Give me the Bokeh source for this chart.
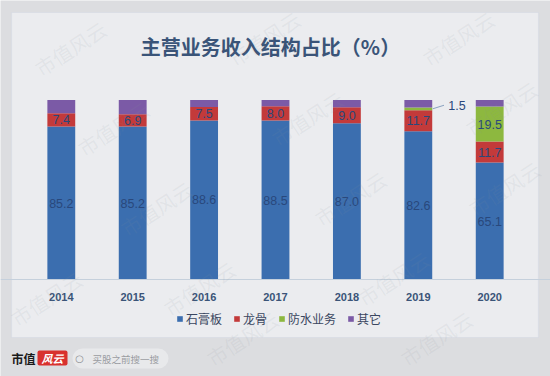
from bokeh.plotting import figure
from bokeh.models import (ColumnDataSource, Range1d, FactorRange, Label, BoxAnnotation,
                          Legend, LegendItem)
from bokeh.core.properties import value
from bokeh.transform import dodge
from bokeh.embed import file_html
from bokeh.resources import INLINE

years = ["2014", "2015", "2016", "2017", "2018", "2019", "2020"]
gypsum = [85.2, 85.2, 88.6, 88.5, 87.0, 82.6, 65.1]      # 石膏板
keel = [7.4, 6.9, 7.5, 8.0, 9.0, 11.7, 11.7]             # 龙骨
waterproof = [0.0, 0.0, 0.0, 0.0, 0.0, 1.5, 19.5]        # 防水业务
other = [7.4, 7.9, 3.9, 3.5, 4.0, 4.2, 3.7]              # 其它
series_names = ["石膏板", "龙骨", "防水业务", "其它"]
colors = ["#3b6eaf", "#c33a3a", "#8db83f", "#7b5aa6"]
title_text = "主营业务收入结构占比（%）"
watermark_text = "市值风云"
logo_text = "市值"
logo_red_text = "风云"
search_text = "买股之前搜一搜"

W, H = 550, 376
OUTER = "#dcdde0"
PANEL = "#ebecef"
TXT = "#3a5478"
FONT = "Noto Sans CJK SC"
NUMFONT = "Liberation Sans"

# frame covers the whole canvas; ranges chosen so that 0..100 % sits at the
# chart's plotting band and categories fall on the original bar centres
pad = 0.3515
x_range = FactorRange(*years, range_padding=pad, range_padding_units="absolute")
y_range = Range1d(-54.04, 155.4)

p = figure(width=W, height=H, x_range=x_range, y_range=y_range,
           output_backend="svg", toolbar_location=None,
           min_border=0, min_border_left=0, min_border_right=0,
           min_border_top=0, min_border_bottom=0)
p.border_fill_color = OUTER
p.background_fill_color = OUTER
p.outline_line_color = None
p.grid.visible = False
p.yaxis.visible = False


def sy(y_from_top):
    return H - y_from_top


# inner panel
p.add_layout(BoxAnnotation(left=11, right=538, top=sy(12), bottom=sy(337),
                           left_units="screen", right_units="screen",
                           top_units="screen", bottom_units="screen",
                           fill_color=PANEL, fill_alpha=1.0, line_color="#c6d2de",
                           line_width=1.2, level="underlay"))

data = dict(year=years, gypsum=gypsum, keel=keel, waterproof=waterproof, other=other)
src = ColumnDataSource(data)
keys = ["gypsum", "keel", "waterproof", "other"]
rs = p.vbar_stack(keys, x="year", width=0.39, source=src, color=colors, line_color=None)

lab_x, lab_y, lab_t = [], [], []
for i, y in enumerate(years):
    base = 0.0
    for k, arr in zip(keys, [gypsum, keel, waterproof, other]):
        v = arr[i]
        if k != "other" and v > 0 and not (k == "waterproof" and v < 3):
            lab_x.append(y); lab_y.append(base + v / 2); lab_t.append(f"{v:.1f}")
        base += v
lsrc = ColumnDataSource(dict(x=lab_x, y=lab_y, t=lab_t))
p.text(x="x", y="y", text="t", source=lsrc, text_align="center", text_baseline="middle",
       text_font_size="12.5px", text_color="#29487c", text_font=value(NUMFONT))

i19 = years.index("2019")
yb = gypsum[i19] + keel[i19] + waterproof[i19] / 2
lead = ColumnDataSource(dict(x=[years[i19]], y0=[yb], y1=[yb + 2.0], t=[f"{waterproof[i19]:.1f}"]))
p.segment(x0=dodge("x", 0.2, range=p.x_range), y0="y0", x1=dodge("x", 0.36, range=p.x_range),
          y1="y1", source=lead, line_color="#8aa2c0", line_width=1)
p.text(x=dodge("x", 0.42, range=p.x_range), y="y1", text="t", source=lead, text_align="left",
       text_baseline="middle", text_font_size="12.5px", text_color="#29487c",
       text_font=value(NUMFONT))

ax = p.xaxis[0]
ax.fixed_location = 0
ax.axis_line_color = "#c5d0dc"
ax.axis_line_width = 1.2
ax.major_tick_line_color = None
ax.minor_tick_line_color = None
ax.major_label_text_color = TXT
ax.major_label_text_font_size = "11px"
ax.major_label_text_font = NUMFONT
ax.major_label_text_font_style = "bold"
ax.major_label_standoff = 8

legend = Legend(items=[LegendItem(label=n, renderers=[r]) for n, r in zip(series_names, rs)],
                orientation="horizontal", location=(176, 49),
                border_line_color=None, background_fill_alpha=0,
                label_text_font=FONT, label_text_font_size="12px", label_text_color="#3a4660",
                glyph_width=7, glyph_height=7, label_standoff=3, spacing=11, padding=0, margin=0)
p.add_layout(legend)

p.add_layout(Label(x=270, y=sy(46), x_units="screen", y_units="screen", text=title_text,
                   text_align="center", text_baseline="middle", text_font=FONT,
                   text_font_size="20px", text_color=TXT, text_font_style="bold"))

# bottom logo bar
p.add_layout(Label(x=11, y=sy(358), x_units="screen", y_units="screen", text=logo_text,
                   text_align="left", text_baseline="middle", text_font=FONT,
                   text_font_size="12px", text_color="#1a1a1a", text_font_style="bold"))
p.add_layout(BoxAnnotation(left=37, right=67, top=sy(350), bottom=sy(365),
                           left_units="screen", right_units="screen",
                           top_units="screen", bottom_units="screen",
                           fill_color="#d8312e", fill_alpha=1.0, line_color=None,
                           border_radius=2, level="underlay"))
p.add_layout(Label(x=52, y=sy(357.5), x_units="screen", y_units="screen", text=logo_red_text,
                   text_align="center", text_baseline="middle", text_font=FONT,
                   text_font_size="11px", text_color="white", text_font_style="bold italic"))
p.add_layout(BoxAnnotation(left=72, right=168, top=sy(348), bottom=sy(368),
                           left_units="screen", right_units="screen",
                           top_units="screen", bottom_units="screen",
                           fill_color="#e8e9eb", fill_alpha=1.0, line_color=None,
                           border_radius=10, level="underlay"))
p.add_layout(Label(x=79, y=sy(358), x_units="screen", y_units="screen", text="○",
                   text_align="center", text_baseline="middle", text_font="DejaVu Sans",
                   text_font_size="10px", text_color="#8d8f94"))
p.add_layout(Label(x=92, y=sy(358), x_units="screen", y_units="screen", text=search_text,
                   text_align="left", text_baseline="middle", text_font=FONT,
                   text_font_size="9.5px", text_color="#9a9ca1"))

# watermarks (kept fully inside the canvas)
for r in range(5):
    for k in range(-1, 4):
        wx = 70 + 43 * r + 194 * k
        wy = 48 + 80 * r - 10 * k
        cx = min(max(wx, 46), 504)
        cy = min(max(wy, 38), 338)
        if abs(cx - wx) > 45 or abs(cy - wy) > 32:
            continue
        p.add_layout(Label(x=cx, y=sy(cy), x_units="screen", y_units="screen",
                           text=watermark_text, text_align="center",
                           text_baseline="middle", angle=0.576, text_font=FONT,
                           text_font_size="20px", text_color="#8a909a", text_alpha=0.10))

open("out.html", "w").write(file_html(p, INLINE))
